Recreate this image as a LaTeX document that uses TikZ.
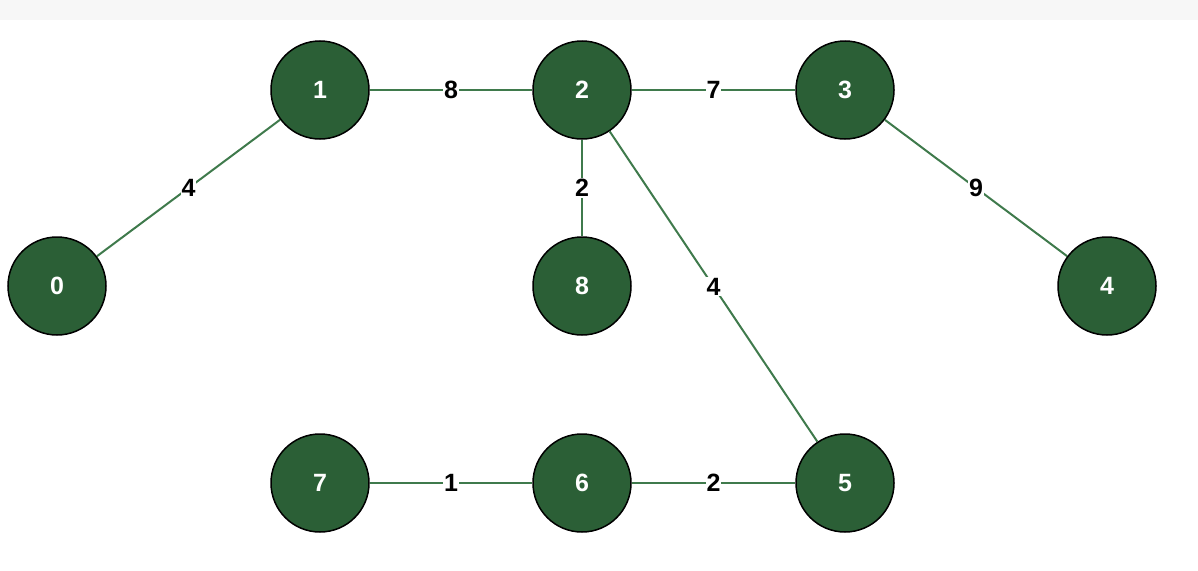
\documentclass[tikz,border=0pt]{standalone}
\usepackage{fontspec}
\setmainfont{Liberation Sans}
\begin{document}
\begin{tikzpicture}[x=1pt,y=-1pt,
  vert/.style={circle,draw=black,line width=1.5pt,fill=vgreen,minimum size=98pt,inner sep=0pt,text=white,font=\fontsize{25}{30}\selectfont\bfseries},
  edge/.style={draw=egreen,line width=2pt},
  wt/.style={fill=white,inner sep=1pt,font=\fontsize{25}{30}\selectfont\bfseries}]
\definecolor{vgreen}{HTML}{2B5F36}
\definecolor{egreen}{HTML}{3F7A4C}
\useasboundingbox (0,0) rectangle (1198,570);
\fill[gray!6] (0,0) rectangle (1198,20);
\node[vert] (n0) at (57,286) {0};
\node[vert] (n1) at (320,90) {1};
\node[vert] (n2) at (582,90) {2};
\node[vert] (n3) at (845,90) {3};
\node[vert] (n4) at (1107,286) {4};
\node[vert] (n5) at (845,483) {5};
\node[vert] (n6) at (582,483) {6};
\node[vert] (n7) at (320,483) {7};
\node[vert] (n8) at (582,286) {8};
\draw[edge] (n0) -- node[wt]{4} (n1);
\draw[edge] (n1) -- node[wt]{8} (n2);
\draw[edge] (n2) -- node[wt]{7} (n3);
\draw[edge] (n3) -- node[wt]{9} (n4);
\draw[edge] (n2) -- node[wt]{2} (n8);
\draw[edge] (n2) -- node[wt]{4} (n5);
\draw[edge] (n7) -- node[wt]{1} (n6);
\draw[edge] (n6) -- node[wt]{2} (n5);
\end{tikzpicture}
\end{document}
